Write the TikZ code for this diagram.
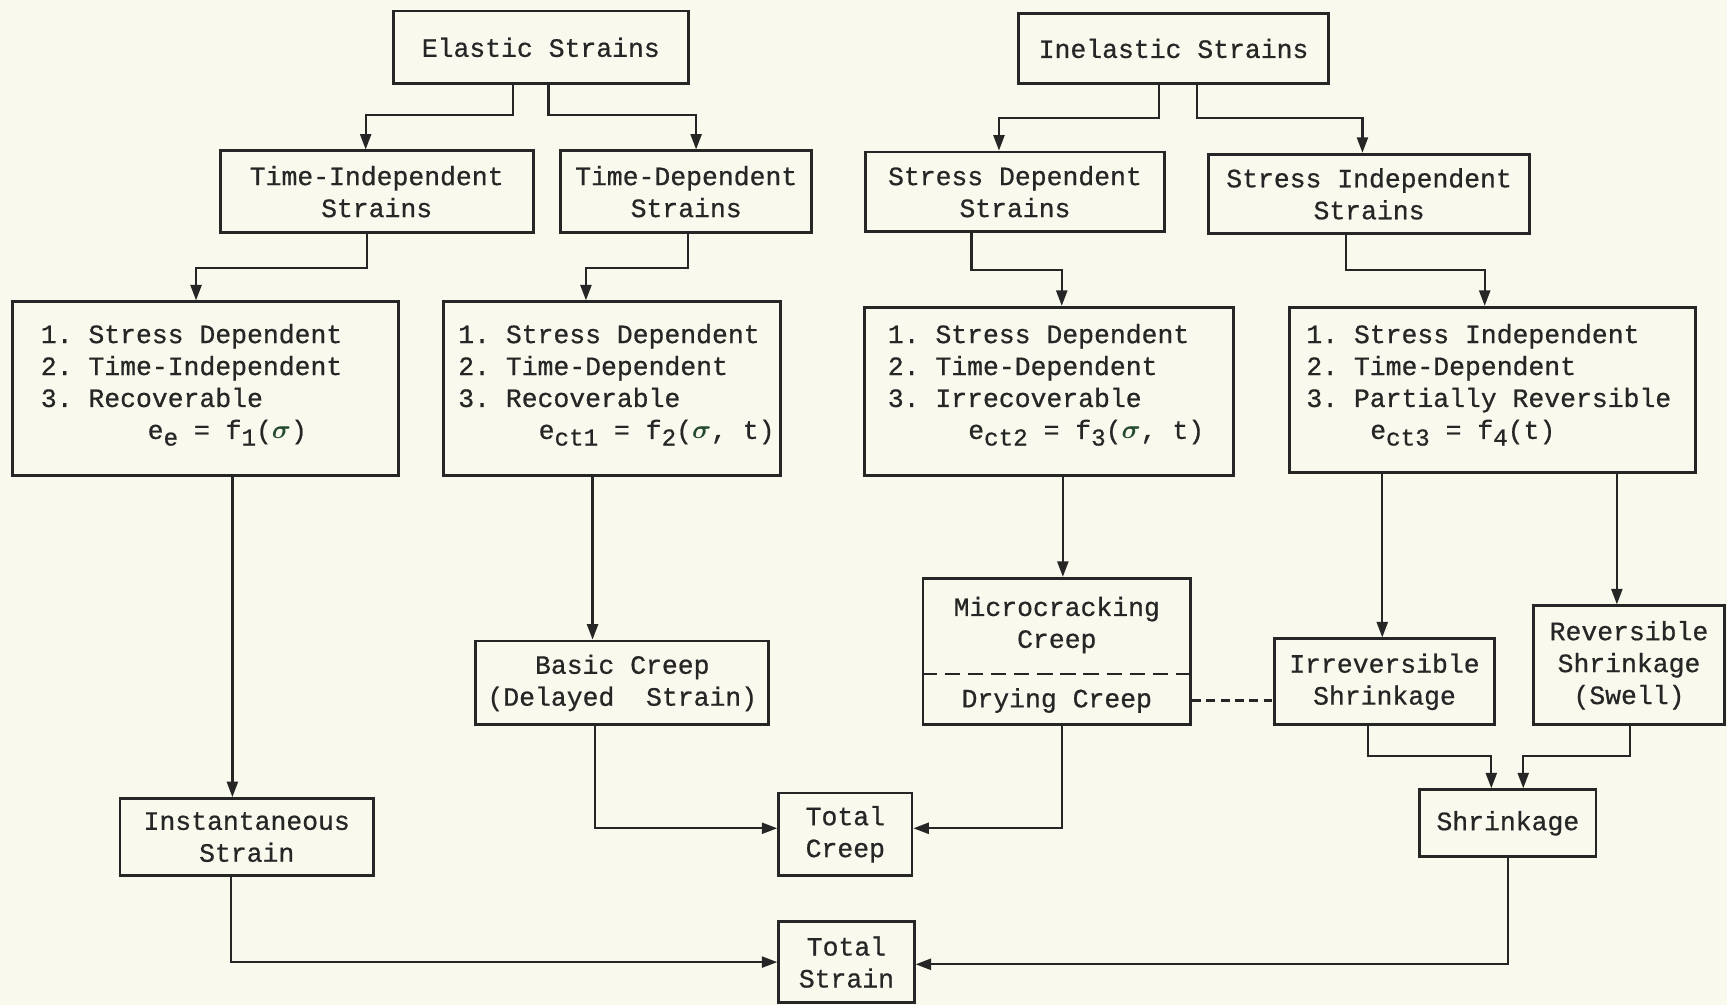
\documentclass[tikz,border=0pt]{standalone}
\usepackage{fontspec}
\setmonofont{Liberation Mono}[FakeBold=0.7]
\usetikzlibrary{arrows.meta}
\definecolor{paper}{RGB}{250,249,237}
\definecolor{ink}{RGB}{38,38,38}
\definecolor{sigc}{RGB}{35,75,45}
\newcommand{\typew}{\ttfamily\fontsize{12}{14.5}\selectfont}
\newcommand{\lowsub}[1]{\raisebox{-3pt}{\fontsize{11}{11}\selectfont #1}}
\newcommand{\sigm}{\textcolor{sigc}{$\boldsymbol{\sigma}$}}
\usepackage{amsmath,amssymb}
\begin{document}
\begin{tikzpicture}[x=0.5pt,y=-0.5pt,
  box/.style={draw=ink, line width=1.3pt, inner sep=0pt, align=center, font=\typew, text=ink},
  txt/.style={inner sep=0pt, align=left, anchor=north west, font=\typew, text=ink},
  ctxt/.style={inner sep=0pt, align=center, font=\typew, text=ink},
  conn/.style={draw=ink, line width=1pt, -{Triangle[length=7pt,width=5pt]}},
  dashline/.style={draw=ink, line width=1pt, dash pattern=on 7pt off 3.5pt},
  dashconn/.style={draw=ink, line width=1pt, dash pattern=on 4pt off 2.5pt}]
\fill[paper] (0,0) rectangle (1568,912.5);
\useasboundingbox (0,0) rectangle (1568,912.5);

% top row
\node[box, minimum width=134pt, minimum height=33pt] (elastic) at (491,43) {Elastic Strains};
\node[box, minimum width=140.5pt, minimum height=32pt] (inelastic) at (1065.5,44) {Inelastic Strains};
% second row
\node[box, minimum width=142pt, minimum height=37pt] (tind) at (342,174) {Time-Independent\\Strains};
\node[box, minimum width=114pt, minimum height=37pt] (tdep) at (623,174) {Time-Dependent\\Strains};
\node[box, minimum width=135.5pt, minimum height=36pt] (sdep) at (921.5,174) {Stress Dependent\\Strains};
\node[box, minimum width=146pt, minimum height=36pt] (sind) at (1243,176) {Stress Independent\\Strains};
% third row boxes
\node[box, minimum width=175.5pt, minimum height=79pt] (A) at (186.5,353) {};
\node[box, minimum width=153pt, minimum height=79pt] (B) at (556,353) {};
\node[box, minimum width=167.5pt, minimum height=76.5pt] (C) at (952.5,355.5) {};
\node[box, minimum width=184pt, minimum height=75pt] (D) at (1355,354) {};
\node[txt] (Atxt) at ([xshift=13.5pt,yshift=-10.5pt]A.north west)
  {1. Stress Dependent\\2. Time-Independent\\3. Recoverable\\\hspace*{48.5pt}e\lowsub{e} = f\lowsub{1}(\sigm)};
\node[txt] (Btxt) at ([xshift=7pt,yshift=-10.5pt]B.north west)
  {1. Stress Dependent\\2. Time-Dependent\\3. Recoverable\\\hspace*{36.5pt}e\lowsub{ct1} = f\lowsub{2}(\sigm, t)};
\node[txt] (Ctxt) at ([xshift=11pt,yshift=-8pt]C.north west)
  {1. Stress Dependent\\2. Time-Dependent\\3. Irrecoverable\\\hspace*{36.5pt}e\lowsub{ct2} = f\lowsub{3}(\sigm, t)};
\node[txt] (Dtxt) at ([xshift=8pt,yshift=-8pt]D.north west)
  {1. Stress Independent\\2. Time-Dependent\\3. Partially Reversible\\\hspace*{29pt}e\lowsub{ct3} = f\lowsub{4}(t)};
% fourth row
\node[box, minimum width=121.5pt, minimum height=66.5pt] (micro) at (959.5,591.5) {};
\node[ctxt] (microtxt) at (959.5,567.5) {Microcracking\\Creep};
\node[ctxt] (dry) at (959.5,636) {Drying Creep};
\coordinate (mdash) at (959.5,612);
\node[box, minimum width=133pt, minimum height=38pt] (basic) at (565,620) {Basic Creep\\(Delayed\ \ Strain)};
\node[box, minimum width=100pt, minimum height=39pt] (irr) at (1257,619) {Irreversible\\Shrinkage};
\node[box, minimum width=87pt, minimum height=54pt] (rev) at (1479,604) {Reversible\\Shrinkage\\(Swell)};
% bottom rows
\node[box, minimum width=115pt, minimum height=35pt] (inst) at (224,760) {Instantaneous\\Strain};
\node[box, minimum width=60.5pt, minimum height=37.5pt] (tcreep) at (767.5,757.5) {Total\\Creep};
\node[box, minimum width=80pt, minimum height=30.5pt] (shrink) at (1369,747.5) {Shrinkage};
\node[box, minimum width=61.5pt, minimum height=36.5pt] (tstrain) at (768.5,873.5) {Total\\Strain};

% dashed lines
\draw[dashline] (micro.west |- mdash) -- (micro.east |- mdash);
\draw[dashconn] (micro.east |- dry) -- (irr.west |- dry);

% connectors top
\draw[conn] ([xshift=-12.5pt]elastic.south) -- ++(0,27) -| ([xshift=-5pt]tind.north);
\draw[conn] ([xshift=3.5pt]elastic.south) -- ++(0,27) -| ([xshift=4.5pt]tdep.north);
\draw[conn] ([xshift=-6.75pt]inelastic.south) -- ++(0,30) -| ([xshift=-7.25pt]sdep.north);
\draw[conn] ([xshift=10.75pt]inelastic.south) -- ++(0,30) -| ([xshift=-3pt]sind.north);
\draw[conn] ([xshift=-4.5pt]tind.south) -- ++(0,31) -| ([xshift=-4.25pt]A.north);
\draw[conn] ([xshift=1pt]tdep.south) -- ++(0,31) -| ([xshift=-12pt]B.north);
\draw[conn] ([xshift=-19.75pt]sdep.south) -- ++(0,34) -| ([xshift=5.75pt]C.north);
\draw[conn] ([xshift=-10.5pt]sind.south) -- ++(0,32) -| ([xshift=-3.5pt]D.north);
% vertical drops
\draw[conn] ([xshift=-6.5pt]inst.north |- A.south) -- ([xshift=-6.5pt]inst.north);
\draw[conn] ([xshift=-13.5pt]basic.north |- B.south) -- ([xshift=-13.5pt]basic.north);
\draw[conn] ([xshift=2.75pt]micro.north |- C.south) -- ([xshift=2.75pt]micro.north);
\draw[conn] ([xshift=-1pt]irr.north |- D.south) -- ([xshift=-1pt]irr.north);
\draw[conn] ([xshift=-5.5pt]rev.north |- D.south) -- ([xshift=-5.5pt]rev.north);
% to total creep
\draw[conn] ([xshift=-12.5pt]basic.south) |- ([yshift=2.75pt]tcreep.west);
\draw[conn] ([xshift=2.25pt]micro.south) |- ([yshift=2.75pt]tcreep.east);
% to shrinkage
\draw[conn] ([xshift=-7.5pt]irr.south) -- ++(0,27) -| ([xshift=-7.5pt]shrink.north);
\draw[conn] ([xshift=0.5pt]rev.south) -- ++(0,27) -| ([xshift=7pt]shrink.north);
% to total strain
\draw[conn] ([xshift=-7pt]inst.south) |- (tstrain.west);
\draw[conn] (shrink.south) |- ([yshift=-1pt]tstrain.east);
\end{tikzpicture}
\end{document}
